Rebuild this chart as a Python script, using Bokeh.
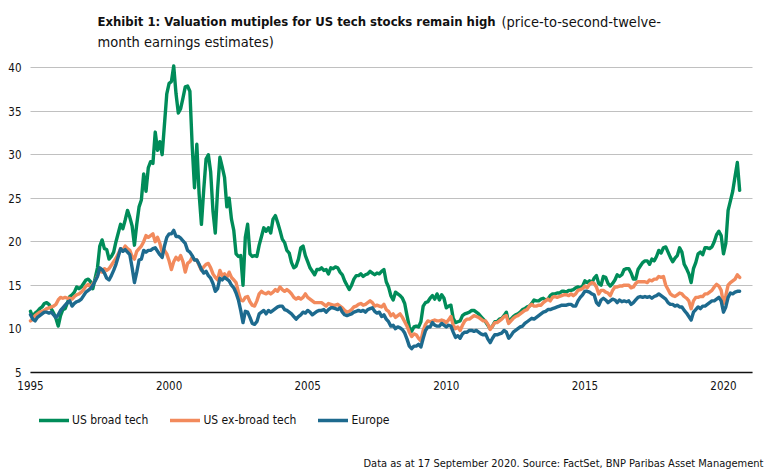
import pandas as pd
from bokeh.plotting import figure
from bokeh.models import FixedTicker, Label, Legend, LegendItem, ColumnDataSource, Grid
from bokeh.embed import file_html
from bokeh.resources import INLINE

# Monthly price / second-twelve-month earnings multiples, Jan 1995 onwards
us_broad_tech = [
    12.0, 11.3, 11.8, 12.0, 12.3, 12.5, 12.9, 13.0, 12.8, 12.3, 11.8, 11.2,   # 1995
    10.3, 11.5, 12.2, 12.3, 13.0, 13.7, 13.9, 14.2, 14.8, 14.6, 14.8, 15.2,   # 1996
    15.6, 15.7, 15.4, 14.6, 15.8, 17.0, 19.5, 20.2, 19.2, 19.1, 18.0, 18.3,   # 1997
    18.8, 20.0, 21.0, 22.0, 21.5, 22.5, 23.6, 22.8, 21.8, 19.6, 22.0, 24.0,   # 1998
    24.8, 27.8, 25.8, 28.5, 29.2, 29.0, 32.6, 30.5, 31.5, 30.0, 33.5, 37.0,   # 1999
    38.2, 38.4, 40.2, 37.0, 34.8, 35.3, 36.5, 37.8, 37.9, 37.3, 31.0, 26.2,   # 2000
    31.2, 25.5, 22.0, 26.0, 29.5, 30.0, 28.0, 23.5, 21.0, 26.0, 29.7, 28.6,   # 2001
    27.4, 24.0, 25.0, 22.6, 21.3, 18.6, 18.3, 18.4, 15.0, 20.5, 22.0, 18.6,   # 2002
    18.3, 18.4, 18.3, 19.6, 20.6, 21.6, 21.2, 21.6, 21.0, 22.6, 23.0, 22.2,   # 2003
    21.3, 20.3, 19.9, 19.0, 18.7, 17.6, 17.0, 17.2, 18.0, 19.3, 19.5, 18.4,   # 2004
    17.7, 17.0, 16.6, 16.2, 16.8, 16.8, 17.0, 16.7, 16.8, 16.3, 17.0, 16.9,   # 2005
    17.1, 17.0, 16.5, 16.2, 15.5, 15.0, 14.5, 15.0, 15.7, 16.1, 16.1, 16.3,   # 2006
    16.0, 16.2, 16.3, 16.6, 16.4, 16.2, 16.4, 16.3, 16.6, 16.8, 15.4, 14.8,   # 2007
    13.8, 13.3, 14.2, 14.0, 13.8, 13.5, 12.9, 11.5, 10.2, 9.7, 10.2, 10.3,    # 2008
    10.2, 10.8, 12.6, 13.0, 13.1, 13.5, 13.8, 13.4, 14.0, 13.3, 13.9, 13.5,   # 2009
    12.4, 12.6, 12.7, 11.2, 10.7, 10.8, 10.9, 11.5, 11.7, 11.8, 11.9, 12.1,   # 2010
    12.1, 11.9, 11.7, 11.4, 11.1, 10.8, 10.4, 10.0, 10.3, 10.8, 10.8, 11.1,   # 2011
    11.2, 11.5, 11.9, 10.7, 11.1, 11.4, 11.6, 11.7, 11.9, 12.2, 12.3, 12.5,   # 2012
    12.6, 12.9, 13.3, 13.2, 13.2, 13.4, 13.5, 13.3, 13.4, 13.8, 14.0, 14.0,   # 2013
    14.1, 14.1, 14.3, 14.3, 14.2, 14.4, 14.4, 14.5, 14.7, 14.8, 14.7, 14.9,   # 2014
    15.5, 15.3, 15.5, 15.3, 15.8, 16.1, 15.2, 15.0, 16.0, 15.9, 15.2, 14.9,   # 2015
    15.2, 15.6, 16.2, 16.0, 16.2, 16.8, 16.9, 16.9, 16.4, 15.7, 15.7, 16.8,   # 2016
    17.2, 17.6, 17.8, 17.8, 17.4, 18.0, 17.8, 18.3, 19.0, 18.7, 19.3, 19.4,   # 2017
    18.8, 18.2, 17.7, 18.1, 18.4, 19.3, 18.8, 17.4, 16.9, 16.3, 15.3, 16.9,   # 2018
    17.6, 18.6, 18.8, 18.5, 19.3, 19.3, 19.2, 19.4, 20.0, 20.8, 21.2, 20.7,   # 2019
    18.6, 19.8, 23.6, 24.7, 25.8, 27.5, 29.1, 25.9,                           # 2020
]

us_ex_broad_tech = [
    10.9, 11.1, 11.5, 11.7, 11.9, 12.0, 12.1, 12.3, 12.4, 12.5, 12.6, 12.8,
    13.3, 13.6, 13.5, 13.6, 13.5, 13.5, 13.4, 13.7, 13.9, 14.0, 14.2, 14.5,
    14.9, 15.1, 14.8, 15.2, 15.5, 16.1, 16.7, 16.5, 16.9, 16.7, 16.9, 17.3,
    17.7, 18.1, 18.6, 19.2, 19.0, 19.5, 19.2, 19.0, 18.3, 18.0, 18.9, 19.2,
    19.5, 20.0, 20.7, 20.5, 20.7, 20.9, 20.0, 20.5, 19.8, 18.8, 19.0, 18.6,
    17.8, 16.8, 17.7, 18.2, 17.9, 18.4, 17.7, 16.5, 17.5, 17.7, 18.2, 17.9,
    17.9, 17.3, 16.7, 17.1, 17.4, 17.5, 17.0, 16.3, 15.9, 15.6, 16.7, 16.1,
    16.3, 15.9, 16.5, 15.9, 15.6, 15.3, 14.2, 13.3, 13.2, 13.6, 13.7, 13.1,
    12.7, 12.6, 13.2, 14.0, 14.3, 14.1, 14.0, 14.2, 14.0, 14.2, 14.5, 14.3,
    14.8, 14.5, 14.3, 14.5, 14.3, 14.0, 13.6, 13.4, 13.6, 13.4, 13.6, 14.0,
    13.6, 13.4, 13.2, 13.0, 13.0, 13.0, 13.0, 12.8, 12.6, 12.9, 12.8, 12.7,
    12.7, 12.8, 12.6, 12.4, 12.1, 11.9, 12.0, 12.2, 12.5, 12.6, 12.8, 12.9,
    12.7, 12.8, 13.0, 13.2, 13.0, 12.6, 12.7, 12.6, 12.5, 12.8, 12.2, 12.0,
    11.5, 11.7, 11.3, 11.5, 11.7, 11.3, 10.8, 10.3, 9.6, 9.1, 9.4, 9.3,
    8.9, 8.6, 9.8, 10.5, 10.9, 10.8, 10.9, 11.0, 10.9, 10.9, 11.0, 10.9,
    10.7, 11.0, 11.4, 10.4, 10.0, 10.2, 9.8, 10.4, 10.9, 11.1, 11.1, 11.3,
    11.5, 11.4, 11.3, 11.1, 10.9, 10.9, 10.5, 9.9, 10.3, 10.7, 10.7, 10.9,
    11.1, 11.4, 11.5, 10.6, 10.9, 11.2, 11.4, 11.5, 11.7, 11.9, 12.1, 12.2,
    12.6, 12.8, 12.6, 12.6, 12.7, 12.7, 13.0, 13.2, 13.4, 13.2, 13.6, 13.7,
    13.6, 13.7, 13.8, 13.9, 13.9, 13.8, 14.0, 13.8, 14.0, 14.4, 14.5, 14.6,
    14.9, 14.7, 15.1, 15.3, 15.2, 14.8, 14.0, 14.4, 14.4, 14.2, 14.1, 13.8,
    14.4, 14.8, 14.8, 14.9, 14.9, 15.0, 15.0, 15.0, 14.7, 14.8, 15.2, 15.4,
    15.4, 15.4, 15.4, 15.3, 15.6, 15.5, 15.7, 15.7, 16.0, 15.9, 16.0, 15.0,
    14.5, 14.0, 13.8, 13.7, 13.9, 14.1, 14.0, 13.7, 13.5, 13.2, 12.3, 13.2,
    13.6, 13.6, 13.7, 13.7, 14.0, 14.0, 14.2, 14.4, 14.8, 15.1, 14.9, 14.4,
    12.9, 13.8, 15.0, 15.3, 15.5, 15.7, 16.2, 15.9,
]

europe = [
    11.6, 11.1, 10.9, 11.3, 11.5, 11.7, 11.9, 11.9, 11.8, 11.9, 11.6, 11.3,
    11.6, 12.1, 12.4, 12.7, 13.0, 13.2, 12.6, 12.9, 13.1, 13.2, 13.4, 13.8,
    14.2, 14.4, 14.6, 15.0, 15.5, 16.0, 17.0, 16.8, 16.4, 15.8, 15.6, 16.1,
    16.7, 17.4, 18.3, 19.2, 18.9, 19.1, 18.8, 18.5, 17.0, 15.3, 16.5, 17.9,
    18.0, 19.0, 18.8, 19.0, 19.0, 19.2, 19.3, 18.9, 18.5, 18.2, 19.5, 20.5,
    20.9, 20.9, 21.3, 20.6, 20.6, 20.4, 20.1, 19.8, 19.0, 18.8, 18.4, 17.9,
    17.9, 17.4, 16.8, 16.4, 16.6, 16.1, 15.8, 15.2, 14.3, 14.6, 15.8, 15.6,
    15.9, 15.7, 15.5, 15.0, 14.7, 14.1, 13.3, 12.1, 10.7, 12.0, 11.9, 11.3,
    10.6, 10.5, 10.8, 11.7, 11.9, 12.1, 11.7, 12.1, 11.9, 12.1, 12.3, 12.5,
    12.6, 12.6, 12.2, 12.1, 11.9, 11.7, 11.4, 11.1, 11.4, 11.6, 11.9, 11.8,
    12.1, 11.9, 11.6, 11.8, 12.0, 12.1, 12.1, 12.2, 11.9, 12.2, 12.4, 12.4,
    12.3, 12.2, 12.4, 11.9, 11.6, 11.5, 11.6, 11.7, 11.9, 12.0, 12.1, 12.0,
    12.1, 11.9, 12.2, 12.3, 12.4, 12.0, 11.8, 11.9, 11.4, 11.6, 11.1, 10.8,
    10.3, 10.4, 10.0, 10.2, 10.1, 9.9, 9.5, 8.8, 8.0, 7.7, 8.0, 8.0,
    8.2, 7.9, 8.9, 9.8, 10.2, 10.2, 10.7, 10.4, 10.3, 10.3, 10.6, 10.4,
    10.2, 10.4, 10.3, 9.6, 9.0, 9.2, 8.9, 9.4, 9.6, 9.6, 9.8, 9.8,
    9.7, 9.8, 9.6, 9.4, 9.3, 9.4, 8.8, 8.4, 8.9, 9.3, 9.3, 9.4,
    9.5, 9.8, 9.6, 8.9, 9.2, 9.6, 9.8, 10.0, 10.2, 10.3, 10.6, 10.8,
    11.0, 11.2, 11.1, 11.3, 11.5, 11.7, 11.9, 12.0, 12.2, 12.2, 12.3, 12.4,
    12.5, 12.6, 12.7, 12.7, 12.7, 12.8, 12.8, 12.6, 12.6, 13.2, 13.6, 13.9,
    14.3, 14.3, 14.2, 14.0, 13.9, 13.0, 12.7, 13.3, 13.5, 13.3, 13.0, 13.2,
    13.4, 13.3, 13.0, 13.3, 13.1, 13.2, 13.1, 13.2, 12.8, 13.0, 13.3, 13.6,
    13.7, 13.6, 13.7, 13.6, 13.7, 13.5, 13.7, 13.8, 14.0, 13.8, 13.6, 13.4,
    13.0, 12.8, 12.8, 12.6, 12.7, 12.5, 12.5, 12.1, 11.8, 11.4, 11.0, 11.9,
    12.2, 12.5, 12.3, 12.6, 12.6, 12.8, 13.0, 13.2, 13.2, 13.4, 13.6, 13.2,
    11.9, 12.5, 13.6, 14.1, 14.0, 14.2, 14.3, 14.3,
]

series_names = ["US broad tech", "US ex-broad tech", "Europe"]
series_colors = ["#008C59", "#F28A5C", "#1D6A8E"]
year_ticks = [1995, 2000, 2005, 2010, 2015, 2020]
value_ticks = [5, 10, 15, 20, 25, 30, 35, 40]
x_start, x_end = 1995, 2021.05     # extent of the axis line and grid
y_base = 5                          # value at which the x axis sits

months = pd.date_range("1995-01-01", periods=len(us_broad_tech), freq="MS")
t = list(months.year + (months.month - 1) / 12.0)

source = ColumnDataSource(dict(t=t, broad=us_broad_tech, exbroad=us_ex_broad_tech, europe=europe))

FONT = "'Liberation Sans Narrow', 'Arial Narrow', 'DejaVu Sans Condensed', 'Liberation Sans', sans-serif"
INK = "#111111"

W, H = 770, 474
# The frame covers the whole canvas: headline, legend and source sit inside it
# and the axes are pinned to the chart corner with fixed_location.
p = figure(width=W, height=H, x_range=(1993.918, 2021.696), y_range=(-6.759, 47.724),
           output_backend="svg", toolbar_location=None,
           min_border_left=0, min_border_right=0, min_border_top=0, min_border_bottom=0)
p.outline_line_color = None
p.background_fill_color = "white"
p.border_fill_color = "white"

p.xgrid.visible = False
p.ygrid.ticker = FixedTicker(ticks=value_ticks)
p.ygrid.grid_line_color = "#C0C0C0"
p.ygrid.grid_line_width = 1
if "cross_bounds" in Grid.properties():
    p.ygrid.cross_bounds = (x_start, x_end)

p.yaxis.fixed_location = x_start
p.yaxis.ticker = FixedTicker(ticks=value_ticks)
p.yaxis.axis_line_color = None
p.yaxis.major_tick_line_color = None
p.yaxis.minor_tick_line_color = None
p.yaxis.major_tick_out = 0
p.yaxis.major_tick_in = 0
p.yaxis.major_label_standoff = 9
p.yaxis.major_label_text_font = FONT
p.yaxis.major_label_text_font_size = "11.5px"
p.yaxis.major_label_text_color = INK

p.xaxis.fixed_location = y_base
p.xaxis.bounds = (x_start, x_end)
p.xaxis.ticker = FixedTicker(ticks=year_ticks)
p.xaxis.axis_line_color = "#111111"
p.xaxis.axis_line_width = 1.5
p.xaxis.major_tick_line_color = None
p.xaxis.minor_tick_line_color = None
p.xaxis.major_tick_out = 0
p.xaxis.major_tick_in = 0
p.xaxis.major_label_standoff = 9
p.xaxis.major_label_text_font = FONT
p.xaxis.major_label_text_font_size = "11.5px"
p.xaxis.major_label_text_color = INK

renderers = []
for col, color in zip(["broad", "exbroad", "europe"], series_colors):
    r = p.line("t", col, source=source, line_color=color, line_width=3.4,
               line_join="round", line_cap="round")
    renderers.append(r)

legend = Legend(items=[LegendItem(label=n, renderers=[r]) for n, r in zip(series_names, renderers)],
                location=(39, H - 430), orientation="horizontal",
                glyph_width=30, glyph_height=20, label_height=20, label_standoff=3, spacing=22,
                padding=0, margin=0, border_line_color=None, background_fill_alpha=0,
                label_text_font=FONT, label_text_font_size="12px", label_text_color=INK)
p.add_layout(legend)

# Headline: bold statement followed by the measure in regular weight
p.add_layout(Label(x=97, y=H - 21, x_units="screen", y_units="screen",
                   text="Exhibit 1: Valuation mutiples for US tech stocks remain high",
                   text_font=FONT, text_font_style="bold", text_font_size="13px",
                   text_color=INK, text_baseline="alphabetic"))
p.add_layout(Label(x=501, y=H - 21, x_units="screen", y_units="screen",
                   text="(price-to-second-twelve-",
                   text_font=FONT, text_font_size="14.5px",
                   text_color=INK, text_baseline="alphabetic"))
p.add_layout(Label(x=97, y=H - 41, x_units="screen", y_units="screen",
                   text="month earnings estimates)",
                   text_font=FONT, text_font_size="14.5px",
                   text_color=INK, text_baseline="alphabetic"))

# Source note, bottom right
p.add_layout(Label(x=763, y=H - 463, x_units="screen", y_units="screen",
                   text="Data as at 17 September 2020. Source: FactSet, BNP Paribas Asset Management",
                   text_font=FONT, text_font_size="11px", text_align="right",
                   text_color=INK, text_baseline="alphabetic"))

open("out.html", "w").write(file_html(p, INLINE))
